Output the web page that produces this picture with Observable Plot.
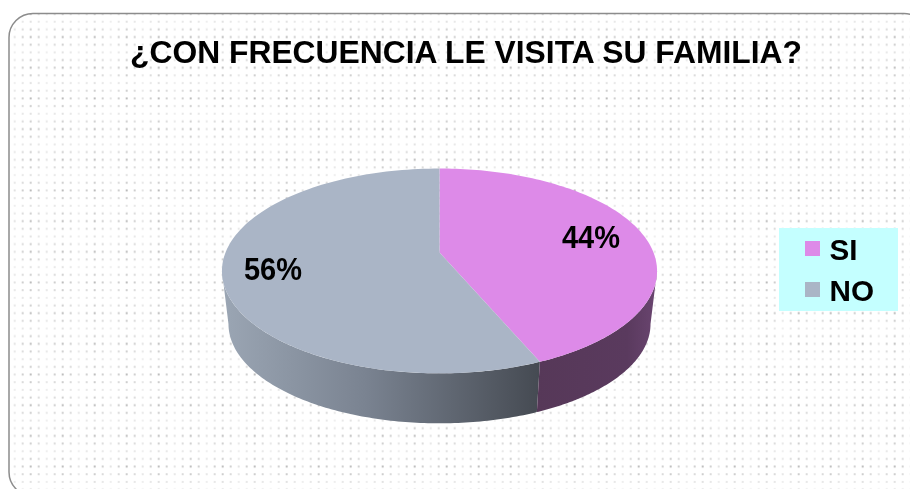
<!DOCTYPE html>
<html>
<head>
<meta charset="utf-8">
<script src="https://cdn.jsdelivr.net/npm/d3@7"></script>
<script src="https://cdn.jsdelivr.net/npm/@observablehq/plot@0.6"></script>
<style>
html,body{margin:0;padding:0;background:#fff;overflow:hidden}
svg{display:block}
</style>
</head>
<body>
<div id="chart"></div>
<script>
const chartTitle = "¿CON FRECUENCIA LE VISITA SU FAMILIA?";
const categories = ["SI", "NO"];
const shares = [43.6, 56.4];
const colors = ["#dd8ae8", "#aab5c6"];

const W = 910, H = 489, FONT = "Liberation Sans, Arial, sans-serif";
// Perspective view of the pie disc
const cx = 439, cyTop = 252, A = 214, B = 99.1, k = 0.18, depth = 53.6, shrink = 0.97, N = 120;
const project = (deg, s = 1, dy = 0) => {
  const t = deg * Math.PI / 180, w = 1 + k * Math.cos(t);
  return {x: cx + s * A * Math.sin(t) / w, y: cyTop + dy - s * B * Math.cos(t) / w};
};
const arc = (a0, a1, s, dy) => d3.range(N + 1).map(i => project(a0 + (a1 - a0) * i / N, s, dy));

const total = d3.sum(shares);
const ends = d3.cumsum(shares).map(v => v / total * 360);
const starts = [0, ...ends.slice(0, -1)];
const topFaces = categories.flatMap((c, i) =>
  [{x: cx, y: cyTop}, ...arc(starts[i], ends[i], 1, 0), {x: cx, y: cyTop}].map(p => ({...p, category: c})));

const silhouette = Math.acos(-k) * 180 / Math.PI;
const wall = (a0, a1) => [...arc(a0, a1, 1, 0), ...arc(a0, a1, shrink, depth).reverse()];
const wallSI = wall(silhouette, ends[0]);
const wallNO = wall(ends[0], 360 - silhouette);

const percentLabels = shares.map(v => `${Math.round(v)}%`);
const pieLabelPos = [{x: 590.5, y: 247.5}, {x: 272.5, y: 279}];
const pieLabels = categories.map((c, i) => ({label: percentLabels[i], ...pieLabelPos[i]}));
const legendRows = categories.map((c, i) => ({category: c, y1: [241, 282][i], y2: [256, 297][i], base: [259, 300][i]}));

const plot = Plot.plot({
  width: W, height: H,
  margin: 0,
  x: {domain: [0, W], range: [0, W], axis: null},
  y: {domain: [0, H], range: [0, H], axis: null},
  color: {domain: categories, range: colors},
  style: {background: "#fff", overflow: "hidden"},
  marks: [
    Plot.rect([{}], {x1: () => 9, x2: () => 928, y1: () => 13.5, y2: () => 496, rx: 24,
      fill: "url(#dots)", stroke: "#8c8c8c", strokeWidth: 1.5}),
    Plot.line(wallNO, {x: "x", y: "y", fill: "url(#wallNO)", stroke: null}),
    Plot.line(wallSI, {x: "x", y: "y", fill: "url(#wallSI)", stroke: null}),
    Plot.line(topFaces, {x: "x", y: "y", z: "category", fill: "category", stroke: null}),
    Plot.text([chartTitle], {x: () => 465.5, y: () => 62.8, text: d => d, fontFamily: FONT, fontWeight: "bold",
      fontSize: 31.8, fill: "#000", textAnchor: "middle", lineAnchor: "bottom"}),
    Plot.text(pieLabels, {x: "x", y: "y", text: "label", fontFamily: FONT, fontWeight: "bold",
      fontSize: 31, fill: "#000", textAnchor: "middle", lineAnchor: "bottom"}),
    Plot.rect([{}], {x1: () => 779, x2: () => 898, y1: () => 228, y2: () => 311, fill: "#c4ffff"}),
    Plot.rect(legendRows, {x1: () => 805, x2: () => 820, y1: "y1", y2: "y2", fill: "category", inset: 0}),
    Plot.text(legendRows, {x: () => 829, y: "base", text: "category", fontFamily: FONT, fontWeight: "bold",
      fontSize: 30, fill: "#000", textAnchor: "start", lineAnchor: "bottom"})
  ]
});

// The reference's labels are drawn slightly condensed
const labelWidths = new Map([["44%", 58], ["56%", 58], ["SI", 28], ["NO", 44.5]]);
d3.select(plot).selectAll("text").each(function () {
  const w = labelWidths.get(this.textContent);
  if (w) { this.setAttribute("textLength", w); this.setAttribute("lengthAdjust", "spacingAndGlyphs"); }
});

// Paint servers used by the frame and the pie walls
const rowW = [0.3, 0.65, 1, 0.65], colW = [0.3, 0.65, 1, 0.65];
const tileH = 30.68;
let dots = "";
for (let r = 0; r < 4; r++) for (let c = 0; c < 4; c++) {
  const o = (0.18 + 0.82 * rowW[r] * colW[c]) * 0.5;
  dots += `<rect x="${(c * 8 + 29.7 - 16) % 32}" y="${((r * 7.67 + 20.7) % tileH).toFixed(2)}" width="2" height="2" fill="#777" opacity="${o.toFixed(3)}"/>`;
}
const defs = document.createElementNS("http://www.w3.org/2000/svg", "defs");
defs.innerHTML = `
<pattern id="dots" patternUnits="userSpaceOnUse" width="32" height="${tileH}"><rect width="32" height="${tileH}" fill="#fff"/>${dots}</pattern>
<linearGradient id="wallNO" x1="0" x2="1" y1="0" y2="0"><stop offset="0" stop-color="#9ba6b4"/><stop offset="0.45" stop-color="#7a8391"/><stop offset="1" stop-color="#454a52"/></linearGradient>
<linearGradient id="wallSI" x1="0" x2="1" y1="0" y2="0"><stop offset="0" stop-color="#563858"/><stop offset="0.75" stop-color="#5a3a5e"/><stop offset="1" stop-color="#6a4570"/></linearGradient>`;
plot.insertBefore(defs, plot.firstChild);
plot.style.filter = "blur(0.4px)";
document.getElementById("chart").appendChild(plot);
</script>
</body>
</html>
